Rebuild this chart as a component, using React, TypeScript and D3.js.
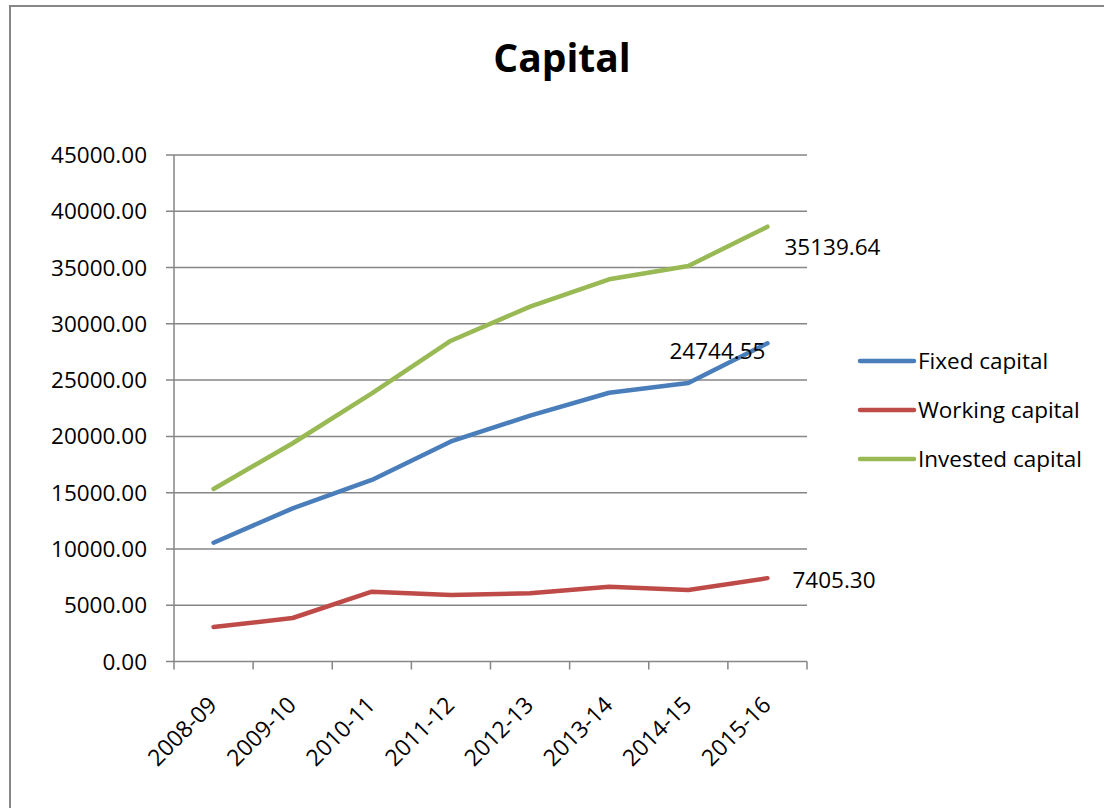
import * as d3 from 'd3'

const years = ['2008-09', '2009-10', '2010-11', '2011-12', '2012-13', '2013-14', '2014-15', '2015-16']
const fixedCapital = [10555, 13610, 16130, 19550, 21850, 23880, 24744.55, 28270]
const workingCapital = [3065, 3865, 6200, 5910, 6060, 6650, 6350, 7405.3]
const investedCapital = [15330, 19390, 23830, 28500, 31530, 33960, 35139.64, 38630]
const yTicks = [0, 5000, 10000, 15000, 20000, 25000, 30000, 35000, 40000, 45000]

const series = [
  { name: 'Fixed capital', values: fixedCapital, color: '#4a7ebb' },
  { name: 'Working capital', values: workingCapital, color: '#be4b48' },
  { name: 'Invested capital', values: investedCapital, color: '#98b954' },
]

// data labels as shown in the picture: [series index, point index, text]
const dataLabels: [number, number, string][] = [
  [2, 7, '35139.64'],
  [0, 7, '24744.55'],
  [1, 7, '7405.30'],
]
const labelOffsets = [
  { dx: 17, dy: 20, anchor: 'start' },
  { dx: -2, dy: 8, anchor: 'end' },
  { dx: 25, dy: 2, anchor: 'start' },
]

const W = 1104
const H = 808
const font = '"Open Sans", sans-serif'
const grid = '#868686'

export default function App() {
  const plot = { left: 174, right: 807, top: 155, bottom: 661.5 }

  const x = d3.scaleBand().domain(years).range([plot.left, plot.right])
  const y = d3.scaleLinear().domain([0, 45000]).range([plot.bottom, plot.top])
  const cx = (i: number) => (x(years[i]) ?? 0) + x.bandwidth() / 2

  const line = d3.line<number>()
    .x((_, i) => cx(i))
    .y(d => y(d))

  const boundaries = years.map(yr => x(yr) ?? 0).concat([plot.right])

  return (
    <svg width={W} height={H} style={{ position: 'absolute', left: 0, top: 0, background: '#fff' }}>
      <rect x={10} y={6} width={W + 20} height={H + 20} fill="#fff" stroke={grid} strokeWidth={2} />

      <text x={562} y={72} textAnchor="middle" fontFamily={font} fontWeight="bold" fontSize={39}>Capital</text>

      {/* gridlines + y axis */}
      {yTicks.map(t => (
        <g key={t}>
          <line x1={plot.left - 8} x2={plot.right} y1={y(t)} y2={y(t)} stroke={grid} strokeWidth={1.5} />
          <text x={147} y={y(t)} dy="0.36em" textAnchor="end" fontFamily={font} fontSize={22.5} fill="#000">
            {d3.format('.2f')(t)}
          </text>
        </g>
      ))}
      <line x1={plot.left} x2={plot.left} y1={plot.top} y2={plot.bottom} stroke={grid} strokeWidth={1.5} />

      {/* x axis ticks + labels */}
      {boundaries.map((b, i) => (
        <line key={i} x1={b} x2={b} y1={plot.bottom} y2={plot.bottom + 8} stroke={grid} strokeWidth={1.5} />
      ))}
      {years.map((yr, i) => (
        <text
          key={yr}
          transform={`translate(${cx(i) - 1},${plot.bottom + 39}) rotate(-45)`}
          textAnchor="end"
          dy="0.36em"
          fontFamily={font}
          fontSize={23}
          fill="#000"
        >
          {yr}
        </text>
      ))}

      {/* lines */}
      {series.map(s => (
        <path key={s.name} d={line(s.values) ?? ''} fill="none" stroke={s.color} strokeWidth={4.5}
          strokeLinecap="round" strokeLinejoin="round" />
      ))}

      {/* data labels */}
      {dataLabels.map(([si, pi, txt], k) => (
        <text key={txt} x={cx(pi) + labelOffsets[k].dx} y={y(series[si].values[pi]) + labelOffsets[k].dy}
          dy="0.36em" textAnchor={labelOffsets[k].anchor} fontFamily={font} fontSize={22.5} fill="#000">
          {txt}
        </text>
      ))}

      {/* legend */}
      {series.map((s, i) => (
        <g key={s.name} transform={`translate(860,${361 + i * 49})`}>
          <line x1={0} x2={54} y1={0} y2={0} stroke={s.color} strokeWidth={4.5} strokeLinecap="round" />
          <text x={58} y={0} dy="0.36em" fontFamily={font} fontSize={22.5} fill="#000">{s.name}</text>
        </g>
      ))}
    </svg>
  )
}
